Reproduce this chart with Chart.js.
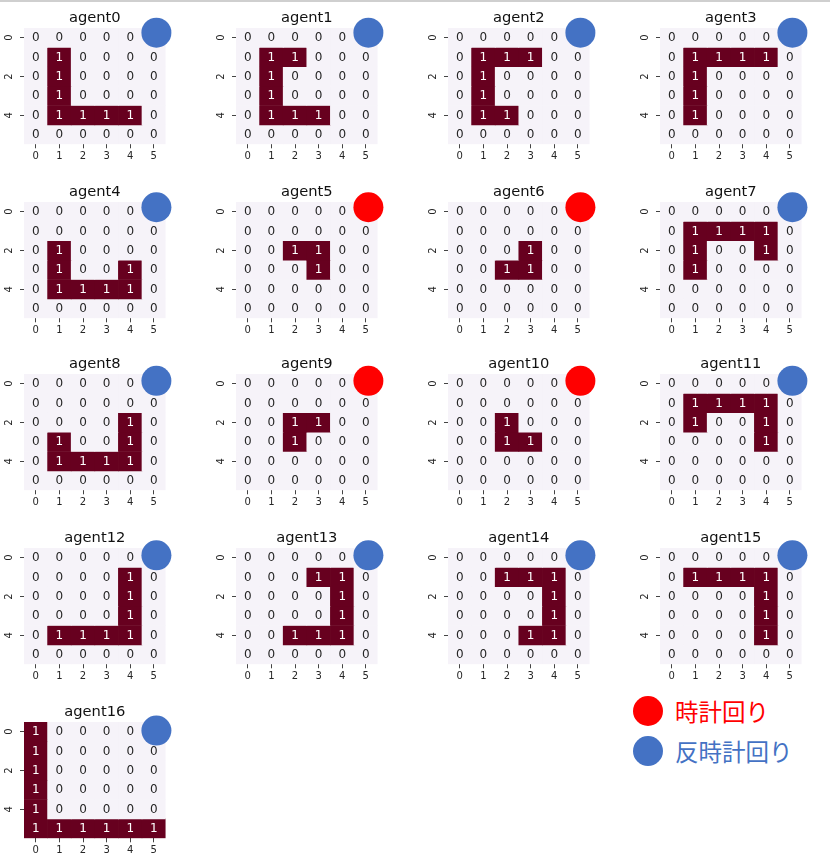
<!DOCTYPE html>
<html><head><meta charset="utf-8">
<script src="https://cdn.jsdelivr.net/npm/chart.js@4.4.0/dist/chart.umd.min.js"></script>
<style>
html,body{margin:0;padding:0;background:#fff;width:830px;height:862px;overflow:hidden;position:relative}
.topline{position:absolute;left:0;top:0;width:830px;height:2px;background:#cfcfcf}
canvas.p{position:absolute}
.legtxt{position:absolute;font-family:"Noto Sans CJK JP";font-size:23.5px;line-height:1;white-space:nowrap}
.dot{position:absolute;width:30px;height:30px;border-radius:50%}
</style></head><body>
<div class="topline"></div>
<script>
// ---------- data ----------
const agentNames = ['agent0','agent1','agent2','agent3','agent4','agent5','agent6','agent7','agent8',
  'agent9','agent10','agent11','agent12','agent13','agent14','agent15','agent16'];
// 'cw' = 時計回り (red), 'ccw' = 反時計回り (blue)
const directions = ['ccw','ccw','ccw','ccw','ccw','cw','cw','ccw','ccw','cw','cw','ccw','ccw','ccw','ccw','ccw','ccw'];
const xTickLabels = ['0','1','2','3','4','5'];
const yTickLabels = ['0','2','4'];
const legendLabels = ['時計回り','反時計回り'];

const agent0Grid = [[0,0,0,0,0,0],[0,1,0,0,0,0],[0,1,0,0,0,0],[0,1,0,0,0,0],[0,1,1,1,1,0],[0,0,0,0,0,0]];
const agent1Grid = [[0,0,0,0,0,0],[0,1,1,0,0,0],[0,1,0,0,0,0],[0,1,0,0,0,0],[0,1,1,1,0,0],[0,0,0,0,0,0]];
const agent2Grid = [[0,0,0,0,0,0],[0,1,1,1,0,0],[0,1,0,0,0,0],[0,1,0,0,0,0],[0,1,1,0,0,0],[0,0,0,0,0,0]];
const agent3Grid = [[0,0,0,0,0,0],[0,1,1,1,1,0],[0,1,0,0,0,0],[0,1,0,0,0,0],[0,1,0,0,0,0],[0,0,0,0,0,0]];
const agent4Grid = [[0,0,0,0,0,0],[0,0,0,0,0,0],[0,1,0,0,0,0],[0,1,0,0,1,0],[0,1,1,1,1,0],[0,0,0,0,0,0]];
const agent5Grid = [[0,0,0,0,0,0],[0,0,0,0,0,0],[0,0,1,1,0,0],[0,0,0,1,0,0],[0,0,0,0,0,0],[0,0,0,0,0,0]];
const agent6Grid = [[0,0,0,0,0,0],[0,0,0,0,0,0],[0,0,0,1,0,0],[0,0,1,1,0,0],[0,0,0,0,0,0],[0,0,0,0,0,0]];
const agent7Grid = [[0,0,0,0,0,0],[0,1,1,1,1,0],[0,1,0,0,1,0],[0,1,0,0,0,0],[0,0,0,0,0,0],[0,0,0,0,0,0]];
const agent8Grid = [[0,0,0,0,0,0],[0,0,0,0,0,0],[0,0,0,0,1,0],[0,1,0,0,1,0],[0,1,1,1,1,0],[0,0,0,0,0,0]];
const agent9Grid = [[0,0,0,0,0,0],[0,0,0,0,0,0],[0,0,1,1,0,0],[0,0,1,0,0,0],[0,0,0,0,0,0],[0,0,0,0,0,0]];
const agent10Grid = [[0,0,0,0,0,0],[0,0,0,0,0,0],[0,0,1,0,0,0],[0,0,1,1,0,0],[0,0,0,0,0,0],[0,0,0,0,0,0]];
const agent11Grid = [[0,0,0,0,0,0],[0,1,1,1,1,0],[0,1,0,0,1,0],[0,0,0,0,1,0],[0,0,0,0,0,0],[0,0,0,0,0,0]];
const agent12Grid = [[0,0,0,0,0,0],[0,0,0,0,1,0],[0,0,0,0,1,0],[0,0,0,0,1,0],[0,1,1,1,1,0],[0,0,0,0,0,0]];
const agent13Grid = [[0,0,0,0,0,0],[0,0,0,1,1,0],[0,0,0,0,1,0],[0,0,0,0,1,0],[0,0,1,1,1,0],[0,0,0,0,0,0]];
const agent14Grid = [[0,0,0,0,0,0],[0,0,1,1,1,0],[0,0,0,0,1,0],[0,0,0,0,1,0],[0,0,0,1,1,0],[0,0,0,0,0,0]];
const agent15Grid = [[0,0,0,0,0,0],[0,1,1,1,1,0],[0,0,0,0,1,0],[0,0,0,0,1,0],[0,0,0,0,1,0],[0,0,0,0,0,0]];
const agent16Grid = [[1,0,0,0,0,0],[1,0,0,0,0,0],[1,0,0,0,0,0],[1,0,0,0,0,0],[1,0,0,0,0,0],[1,1,1,1,1,1]];

const grids = [agent0Grid,agent1Grid,agent2Grid,agent3Grid,agent4Grid,agent5Grid,agent6Grid,agent7Grid,
  agent8Grid,agent9Grid,agent10Grid,agent11Grid,agent12Grid,agent13Grid,agent14Grid,agent15Grid,agent16Grid];

// ---------- style / layout ----------
const DARK = '#67001f', LIGHT = '#f6f3f9';
const DIR_COLOR = { cw: '#ff0000', ccw: '#4472c4' };
const colLeft = [24, 236, 448, 660];
const rowTop = [28, 202, 374, 548, 722];
const circleX = 5.61;
const circleYByRow = [0.24, 0.27, 0.35, 0.38, 0.44];
const GW = 141.6, GH = 116.3, AX_L = 24, TITLE_H = 28, AX_B = 24;
const CW = 190, CH = 170;
const FONT = '"DejaVu Sans"';

const cellLabelPlugin = {
  id: 'cellLabels',
  afterDatasetDraw(chart, args) {
    const ds = chart.data.datasets[args.index];
    if (!ds.cellValues) return;
    const ctx = chart.ctx;
    ctx.save();
    ctx.font = '12px ' + FONT;
    ctx.textAlign = 'center';
    ctx.textBaseline = 'middle';
    args.meta.data.forEach((el, j) => {
      const v = ds.cellValues[j];
      const p = el.getCenterPoint();
      ctx.fillStyle = v ? '#ffffff' : '#262626';
      ctx.fillText(String(v), p.x, p.y + 0.5);
    });
    ctx.restore();
  }
};

const yLabelPlugin = {
  id: 'yLabels',
  afterDraw(chart) {
    const s = chart.scales.y, ctx = chart.ctx;
    ctx.save();
    ctx.font = '10px ' + FONT;
    ctx.fillStyle = '#262626';
    ctx.textAlign = 'center';
    ctx.textBaseline = 'middle';
    s.ticks.forEach((t, k) => {
      const y = s.getPixelForValue(t.value);
      ctx.save();
      ctx.translate(chart.chartArea.left - 14.5, y);
      ctx.rotate(-Math.PI / 2);
      ctx.fillText(yTickLabels[k], 0, 0);
      ctx.restore();
    });
    ctx.restore();
  }
};

const gridOpts = { display: true, offset: false, drawOnChartArea: false, drawTicks: true, tickLength: 4, color: '#444', lineWidth: 1 };

grids.forEach((grid, i) => {
  const col = i % 4, row = Math.floor(i / 4);
  const canvas = document.createElement('canvas');
  canvas.className = 'p';
  canvas.width = CW; canvas.height = CH;
  canvas.style.left = (colLeft[col] - AX_L) + 'px';
  canvas.style.top = (rowTop[row] - TITLE_H) + 'px';
  canvas.style.width = CW + 'px'; canvas.style.height = CH + 'px';
  document.body.appendChild(canvas);

  const datasets = grid.map((rowVals, r) => ({
    type: 'bar',
    label: 'row' + r,
    data: rowVals.map((v, c) => ({ x: c + 0.5, y: [r, r + 1] })),
    cellValues: rowVals,
    backgroundColor: rowVals.map(v => v ? DARK : LIGHT),
    borderWidth: 0,
    barPercentage: 1,
    categoryPercentage: 1,
    grouped: false,
    order: 1
  }));
  datasets.unshift({
    type: 'scatter',
    label: directions[i],
    data: [{ x: circleX, y: circleYByRow[row] }],
    pointRadius: 15, pointHoverRadius: 15,
    backgroundColor: DIR_COLOR[directions[i]],
    borderWidth: 0,
    clip: false,
    order: 0
  });

  const sidePad = (CW - GW) / 2;
  new Chart(canvas, {
    type: 'bar',
    data: { datasets },
    options: {
      responsive: false,
      animation: false,
      events: [],
      devicePixelRatio: 1,
      layout: { padding: { left: AX_L, top: 0, right: CW - AX_L - GW, bottom: CH - TITLE_H - GH - AX_B } },
      plugins: {
        legend: { display: false },
        tooltip: { enabled: false },
        title: {
          display: true, text: agentNames[i], color: '#111',
          font: { family: 'DejaVu Sans', size: 14.7, weight: 'normal', lineHeight: 1.2 },
          padding: { top: 9.3, bottom: TITLE_H - 9.3 - 14.7 * 1.2 }
        }
      },
      scales: {
        x: {
          type: 'linear', min: 0, max: 6, offset: false,
          grid: gridOpts, border: { display: false },
          ticks: { padding: 2.5, color: '#262626', font: { family: 'DejaVu Sans', size: 10 },
            autoSkip: false, maxRotation: 0, callback: (v, k) => xTickLabels[k] },
          afterBuildTicks: s => { s.ticks = xTickLabels.map((_, k) => ({ value: k + 0.5 })); },
          afterFit: s => { s.height = AX_B; }
        },
        y: {
          type: 'linear', min: 0, max: 6, reverse: true,
          grid: gridOpts, border: { display: false },
          ticks: { display: false },
          afterBuildTicks: s => { s.ticks = yTickLabels.map(l => ({ value: Number(l) + 0.5 })); },
          afterFit: s => { s.width = 0; }
        }
      }
    },
    plugins: [cellLabelPlugin, yLabelPlugin]
  });
});

// ---------- legend ----------
const legendColors = [DIR_COLOR.cw, DIR_COLOR.ccw];
const legendCenterY = [710.7, 750.7];
legendLabels.forEach((txt, k) => {
  const d = document.createElement('div');
  d.className = 'dot';
  d.style.left = '633px';
  d.style.top = (legendCenterY[k] - 15) + 'px';
  d.style.background = legendColors[k];
  document.body.appendChild(d);
  const t = document.createElement('div');
  t.className = 'legtxt';
  t.textContent = txt;
  t.style.left = '675px';
  t.style.top = (legendCenterY[k] + 1.5 - 11.75) + 'px';
  t.style.color = legendColors[k];
  document.body.appendChild(t);
});
</script>
</body></html>
